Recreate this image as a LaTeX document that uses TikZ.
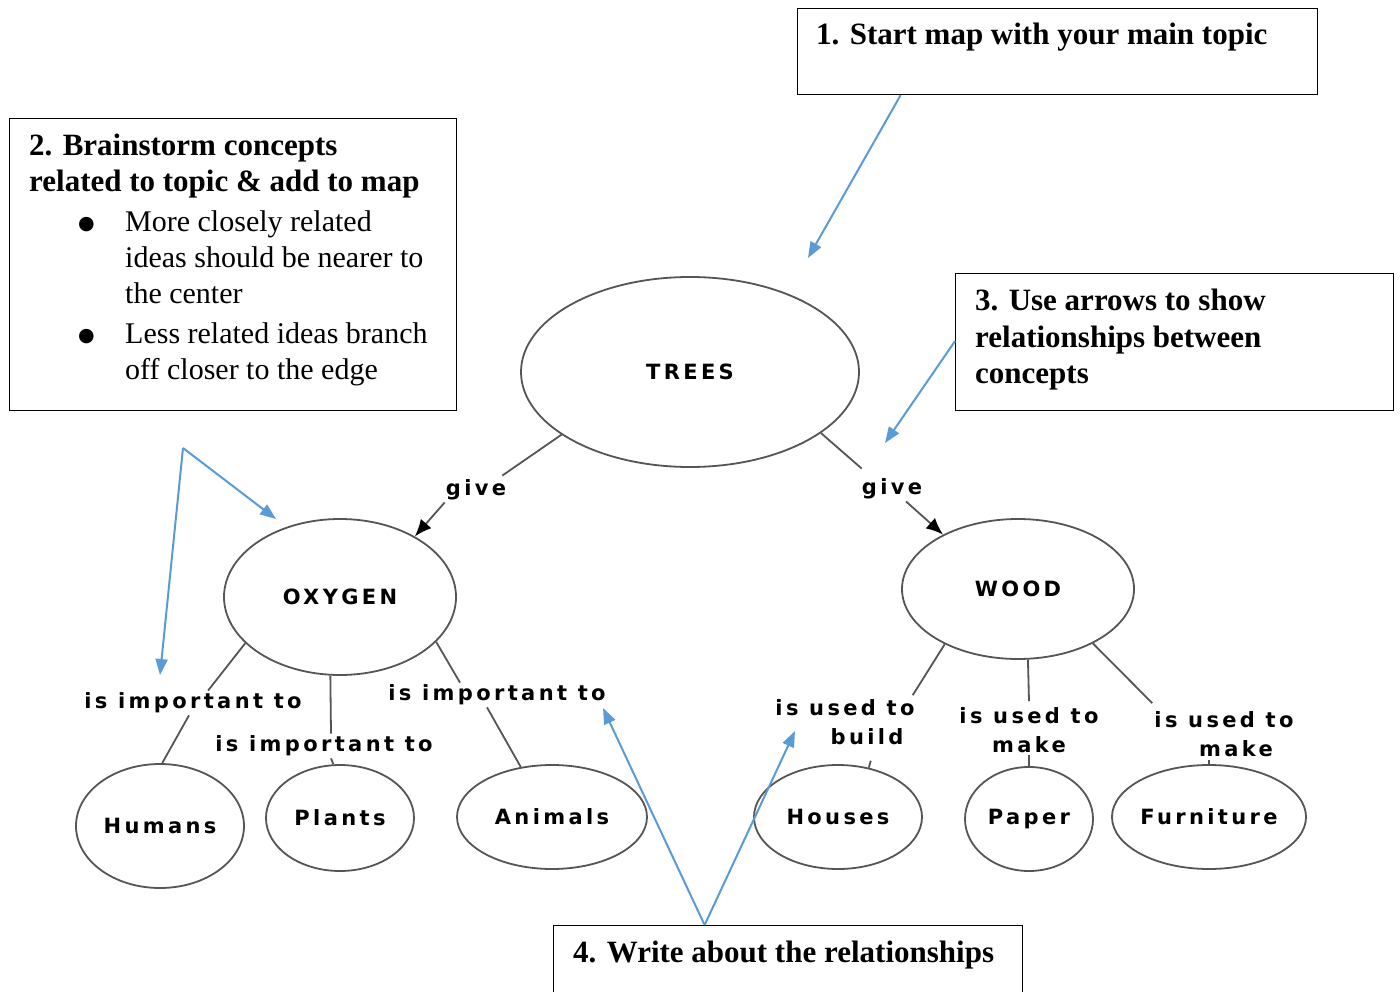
\documentclass[tikz,border=0pt]{standalone}
\usepackage{fontspec}
\setmainfont{Liberation Serif}
\newfontfamily\lblfont[LetterSpace=16,BoldFont={DejaVu Sans Bold}]{DejaVu Sans}
\newfontfamily\symfont{DejaVu Sans}
\newcommand{\bul}{\makebox[47pt][l]{\raisebox{2pt}{\symfont\fontsize{19}{36}\selectfont ●}}}
\usetikzlibrary{shapes.geometric,arrows.meta}
\definecolor{bluec}{HTML}{5B9BD5}
\definecolor{linec}{HTML}{555555}
\begin{document}
\begin{tikzpicture}[x=1pt,y=-1pt,
  box/.style={draw=black, line width=1.2pt, inner sep=0pt, anchor=north west},
  btext/.style={inner sep=0pt, font=\fontsize{30}{36}\selectfont, align=left},
  bb/.style={font=\bfseries\fontsize{31}{36.5}\selectfont},
  bubble/.style={ellipse, draw=linec, line width=1.8pt, inner sep=0pt,
    font=\lblfont\bfseries\fontsize{21}{24}\selectfont},
  lab/.style={inner sep=2pt, font=\lblfont\bfseries\fontsize{21}{29}\selectfont},
  link/.style={draw=linec, line width=1.8pt},
  garrow/.style={link, -{Latex[length=17pt,width=14pt,color=black]}},
  barrow/.style={draw=bluec, line width=2pt, -{Triangle[length=16pt,width=12pt]}}]
\useasboundingbox (0,0) rectangle (1400,992);
\fill[white] (0,0) rectangle (1400,992);

% boxes
\node[box, minimum width=520pt, minimum height=86pt] (box1) at (797,8) {};
\node[btext, bb, anchor=base west] (t1) at (816,45) {1. Start map with your main topic};

\node[box, minimum width=447pt, minimum height=292pt] (box2) at (9,118) {};
\node[btext, anchor=north west] (t2) at (29,134) {{\bfseries\fontsize{31}{36}\selectfont 2. Brainstorm concepts}\\
{\bfseries\fontsize{31}{36}\selectfont related to topic \& add to map}\\[4pt]
\hspace*{49pt}\bul More closely related\\
\hspace*{96pt}ideas should be nearer to\\
\hspace*{96pt}the center\\[4pt]
\hspace*{49pt}\bul Less related ideas branch\\
\hspace*{96pt}off closer to the edge};

\node[box, minimum width=438pt, minimum height=137pt] (box3) at (955,273) {};
\node[btext, bb, anchor=north west] (t3) at (975,289) {3. Use arrows to show\\
relationships between\\
concepts};

\node[box, minimum width=469pt, minimum height=90pt] (box4) at (553,925) {};
\node[btext, bb, anchor=base west] (t4) at (573,962) {4. Write about the relationships};

% concept ellipses
\node[bubble, minimum width=338pt, minimum height=190pt] (trees) at (690,372) {TREES};
\node[bubble, minimum width=232pt, minimum height=156pt] (oxygen) at (340,597) {OXYGEN};
\node[bubble, minimum width=232pt, minimum height=140pt] (wood) at (1018,589) {WOOD};
\node[bubble, minimum width=168pt, minimum height=124pt] (humans) at (160,826) {Humans};
\node[bubble, minimum width=148pt, minimum height=106pt] (plants) at (340,818) {Plants};
\node[bubble, minimum width=190pt, minimum height=104pt] (animals) at (552,817) {Animals};
\node[bubble, minimum width=168pt, minimum height=104pt] (houses) at (838,817) {Houses};
\node[bubble, minimum width=128pt, minimum height=104pt] (paper) at (1029,819) {Paper};
\node[bubble, minimum width=192pt, minimum height=104pt] (furniture) at (1209,817) {Furniture};

% link labels
\node[lab] (giveL) at (476,490) {give};
\node[lab] (giveR) at (892,489) {give};
\node[lab] (impL) at (193,703) {is important to};
\node[lab] (impM) at (324,746) {is important to};
\node[lab] (impR) at (497,695) {is important to};
\node[lab, align=right] (usedL) at (845,722) {is used to\\build\hspace*{11pt}};
\node[lab, align=center] (usedM) at (1029,730) {is used to\\make};
\node[lab, align=center] (usedR) at (1224,734) {is used to\\\hspace*{24pt}make};

% links
\draw[link] (trees.206.6) -- ([xshift=-6pt,yshift=2pt]giveL.north east);
\draw[garrow] ([xshift=1pt]giveL.south west) -- (oxygen.39);
\draw[link] (trees.-25.5) -- ([xshift=2pt,yshift=8pt]giveR.north west);
\draw[garrow] ([xshift=14pt]giveR.south) -- (wood.144.9);

\draw[link] (oxygen.206.8) -- ([xshift=15pt]impL.north);
\draw[link] ([xshift=-4pt]impL.south) -- (humans.88);
\draw[link] (oxygen.-97) -- ([xshift=7pt]impM.north);
\draw[link] ([xshift=7pt]impM.south) -- (plants.97);
\draw[link] (oxygen.-25.4) -- ([xshift=-37pt]impR.north);
\draw[link] ([xshift=-10pt]impR.south) -- (animals.122);

\draw[link] (wood.217.6) -- ([xshift=-4pt,yshift=2pt]usedL.north east);
\draw[link] ([xshift=2pt,yshift=7pt]houses.58) -- (houses.58);
\draw[link] (wood.-82) -- ([yshift=4pt]usedM.north);
\draw[link] (usedM.south) -- (paper.north);
\draw[link] (wood.-36) -- ([xshift=0pt,yshift=6pt]usedR.north west);
\draw[link] ([yshift=4pt]furniture.north) -- (furniture.north);

% blue guide arrows
\coordinate (a1) at (808,258);
\coordinate (a3) at (885,443);
\coordinate (a2s) at (183,448);
\coordinate (a2a) at (276,519);
\coordinate (a2b) at (160,675);
\coordinate (a4a) at (603,708);
\coordinate (a4b) at (795,731);
\draw[barrow] ([xshift=-157pt]box1.south) -- (a1);
\draw[barrow] ([yshift=1pt]box3.west) -- (a3);
\draw[barrow] (a2s) -- (a2a);
\draw[barrow] (a2s) -- (a2b);
\draw[barrow] ([xshift=-83.5pt]box4.north) -- (a4a);
\draw[barrow] ([xshift=-83.5pt]box4.north) -- (a4b);
\end{tikzpicture}
\end{document}
